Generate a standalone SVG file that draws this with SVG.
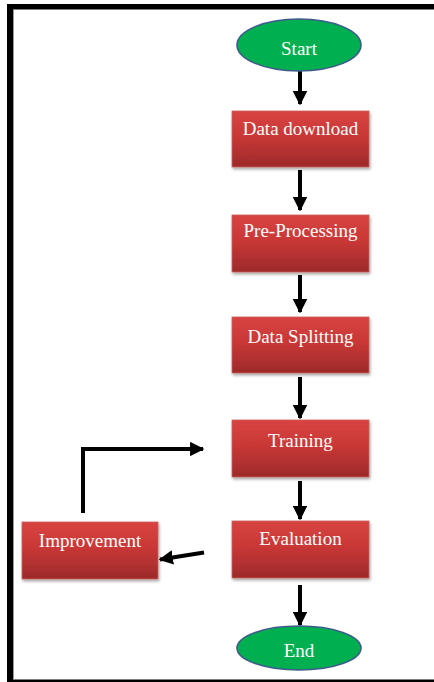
<svg xmlns="http://www.w3.org/2000/svg" width="434" height="682" viewBox="0 0 434 682">
<style>
.box{fill:url(#red);stroke:#c9605c;stroke-width:0.8;filter:url(#sh)}
.ell{fill:#00b050;stroke:#3f5a8c;stroke-width:1.6}
.lbl{font-family:"Liberation Serif","Times New Roman",serif;font-size:19px;fill:#fff;text-anchor:middle}
.c{fill:none;stroke:#000;stroke-width:4}
</style>
<defs>
<linearGradient id="red" x1="0" y1="0" x2="0" y2="1">
<stop offset="0" stop-color="#d84442"/>
<stop offset="0.45" stop-color="#c93736"/>
<stop offset="1" stop-color="#9d2a2a"/>
</linearGradient>
<filter id="sh" x="-10%" y="-10%" width="125%" height="130%">
<feGaussianBlur in="SourceAlpha" stdDeviation="1.5"/>
<feOffset dx="1" dy="2" result="b"/>
<feComponentTransfer><feFuncA type="linear" slope="0.35"/></feComponentTransfer>
<feMerge><feMergeNode/><feMergeNode in="SourceGraphic"/></feMerge>
</filter>
<marker id="ah" viewBox="0 0 10 10" refX="9" refY="5" markerWidth="3.6" markerHeight="3.6" orient="auto" markerUnits="strokeWidth">
<path d="M0,0 L10,5 L0,10 Z" fill="#000"/>
</marker>
</defs>
<rect width="434" height="682" fill="#fff"/>
<g id="frame">
<rect x="7" y="4" width="427" height="5.5" fill="#000"/>
<rect x="7" y="4" width="6" height="678" fill="#000"/>
<rect x="7" y="679.5" width="427" height="2.5" fill="#000"/>
<line x1="13.5" y1="10" x2="13.5" y2="679" stroke="#999" stroke-width="1"/>
</g>
<g id="connectors">
<line class="c" x1="300" y1="63" x2="300" y2="104" marker-end="url(#ah)"/>
<line class="c" x1="300" y1="170" x2="300" y2="210" marker-end="url(#ah)"/>
<line class="c" x1="300" y1="275" x2="300" y2="312" marker-end="url(#ah)"/>
<line class="c" x1="300" y1="377" x2="300" y2="418" marker-end="url(#ah)"/>
<line class="c" x1="300" y1="481" x2="300" y2="519" marker-end="url(#ah)"/>
<line class="c" x1="300" y1="585" x2="300" y2="625" marker-end="url(#ah)"/>
<line class="c" x1="204" y1="552.5" x2="160" y2="559.5" marker-end="url(#ah)"/>
<polyline class="c" points="83,513 83,449 203,449" marker-end="url(#ah)"/>
</g>
<g id="start">
<ellipse class="ell" cx="299" cy="45" rx="62" ry="26"/>
<text class="lbl" x="299" y="55">Start</text>
</g>
<g id="data-download">
<rect class="box" x="232" y="111" width="137" height="56"/>
<text class="lbl" x="300.5" y="135">Data download</text>
</g>
<g id="pre-processing">
<rect class="box" x="232" y="215" width="137" height="57"/>
<text class="lbl" x="300.5" y="237">Pre-Processing</text>
</g>
<g id="data-splitting">
<rect class="box" x="232" y="317" width="137" height="56"/>
<text class="lbl" x="300.5" y="343">Data Splitting</text>
</g>
<g id="training">
<rect class="box" x="232" y="420" width="137" height="57"/>
<text class="lbl" x="300.5" y="447">Training</text>
</g>
<g id="evaluation">
<rect class="box" x="232" y="521" width="137" height="57"/>
<text class="lbl" x="300.5" y="545">Evaluation</text>
</g>
<g id="improvement">
<rect class="box" x="22" y="522" width="136" height="57"/>
<text class="lbl" x="90" y="547">Improvement</text>
</g>
<g id="end">
<ellipse class="ell" cx="299" cy="648" rx="62" ry="22"/>
<text class="lbl" x="299" y="657">End</text>
</g>
</svg>
